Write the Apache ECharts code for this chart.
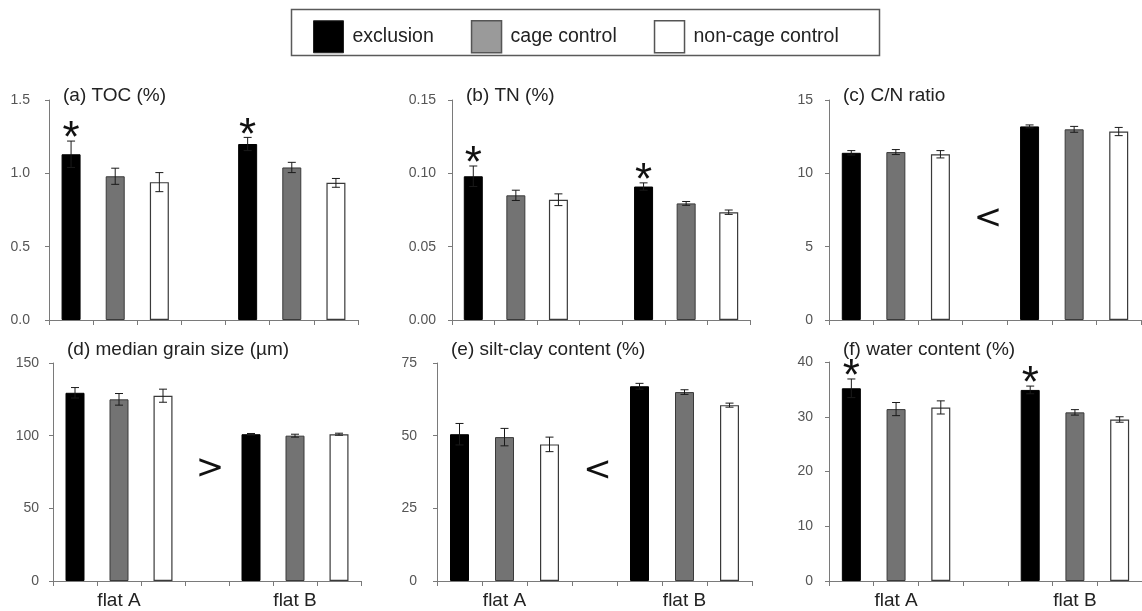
<!DOCTYPE html>
<html>
<head>
<meta charset="utf-8">
<script src="https://cdn.jsdelivr.net/npm/echarts@6/dist/echarts.min.js"></script>
<style>
  html, body { margin: 0; padding: 0; background: #fff; }
  #chart { width: 1142px; height: 611px; }
</style>
</head>
<body>
<div id="chart"></div>
<script>
// Treatments and sampling flats
const treatments = ['exclusion', 'cage control', 'non-cage control'];
const flats = ['flat A', 'flat B'];

// Values ordered: flat A (exclusion, cage, non-cage), flat B (exclusion, cage, non-cage)
const tocMean = [1.13, 0.98, 0.94, 1.20, 1.04, 0.935];
const tocErr  = [0.09, 0.055, 0.065, 0.045, 0.035, 0.03];
const tocSig  = ['*', '', '', '*', '', ''];

const tnMean = [0.098, 0.085, 0.082, 0.091, 0.0795, 0.0735];
const tnErr  = [0.007, 0.0035, 0.004, 0.0025, 0.0013, 0.0015];
const tnSig  = ['*', '', '', '*', '', ''];

const cnMean = [11.4, 11.45, 11.3, 13.2, 13.0, 12.85];
const cnErr  = [0.15, 0.17, 0.25, 0.1, 0.2, 0.28];
const cnSig  = ['', '', '', '', '', ''];

const grainMean = [129.5, 125, 127.5, 101, 100, 101];
const grainErr  = [3.6, 4, 4.5, 0.5, 1, 0.7];
const grainSig  = ['', '', '', '', '', ''];

const siltMean = [50.5, 49.5, 47, 67, 65, 60.5];
const siltErr  = [3.7, 3, 2.5, 1, 0.8, 0.7];
const siltSig  = ['', '', '', '', '', ''];

const waterMean = [35.2, 31.4, 31.7, 34.9, 30.8, 29.5];
const waterErr  = [1.7, 1.2, 1.2, 0.7, 0.5, 0.5];
const waterSig  = ['*', '', '', '*', '', ''];

// Flat A vs flat B comparison signs
const cnCompare = '<';
const grainCompare = '>';
const siltCompare = '<';

// y-axis ranges
const yMax   = [1.5, 0.15, 15, 150, 75, 40];
const yStep  = [0.5, 0.05, 5, 50, 25, 10];
const yDec   = [1, 2, 0, 0, 0, 0];

const panels = [
  { title: '(a) TOC (%)', mean: tocMean, err: tocErr, sig: tocSig, cmp: null },
  { title: '(b) TN (%)', mean: tnMean, err: tnErr, sig: tnSig, cmp: null },
  { title: '(c) C/N ratio', mean: cnMean, err: cnErr, sig: cnSig, cmp: cnCompare },
  { title: '(d) median grain size (\u00b5m)', mean: grainMean, err: grainErr, sig: grainSig, cmp: grainCompare },
  { title: '(e) silt-clay content (%)', mean: siltMean, err: siltErr, sig: siltSig, cmp: siltCompare },
  { title: '(f) water content (%)', mean: waterMean, err: waterErr, sig: waterSig, cmp: null }
];

// Plot areas
const layout = [
  { left: 49,  top: 100, width: 309, height: 220, margin: 19, xlab: false, titleTop: 86,  cmpLevel: 0 },
  { left: 452, top: 100, width: 298, height: 220, margin: 16, xlab: false, titleTop: 86,  cmpLevel: 0 },
  { left: 829, top: 100, width: 312, height: 220, margin: 16, xlab: false, titleTop: 86,  cmpLevel: 0.46 },
  { left: 53,  top: 363, width: 308, height: 218, margin: 14, xlab: true,  titleTop: 340, cmpLevel: 0.515 },
  { left: 437, top: 363, width: 315, height: 218, margin: 20, xlab: true,  titleTop: 340, cmpLevel: 0.505 },
  { left: 829, top: 362, width: 313, height: 219, margin: 16, xlab: true,  titleTop: 340, cmpLevel: 0 }
];

// Each flat takes three bar slots, with one empty slot between the flats
const slotsPerFlat = treatments.length + 1;
const slotCount = flats.length * slotsPerFlat - 1;
const slotKeys = [];
for (let k = 0; k < slotCount; k++) slotKeys.push('s' + k);
function slotOf(f, t) { return f * slotsPerFlat + t; }
function labelFor(idx) {
  for (let f = 0; f < flats.length; f++) {
    if (idx === slotOf(f, 1)) return flats[f];
  }
  return '';
}

const barStyles = [
  { color: '#000000', borderColor: '#000000', borderWidth: 1 },
  { color: '#737373', borderColor: '#3a3a3a', borderWidth: 1 },
  { color: '#ffffff', borderColor: '#3a3a3a', borderWidth: 1.2 }
];

const grid = [], xAxis = [], yAxis = [], series = [], title = [];

panels.forEach((p, i) => {
  const L = layout[i];
  grid.push({ left: L.left, top: L.top, width: L.width, height: L.height, containLabel: false });
  xAxis.push({
    type: 'category', gridIndex: i, data: slotKeys,
    axisLine: { lineStyle: { color: '#7a7a7a', width: 1 } },
    axisTick: { show: true, interval: 0, length: 5, lineStyle: { color: '#7a7a7a' } },
    axisLabel: {
      show: L.xlab, interval: 0, margin: 10,
      formatter: (v, idx) => labelFor(idx),
      fontFamily: 'Liberation Sans, Arial, sans-serif', fontSize: 19, color: '#222'
    },
    splitLine: { show: false }
  });
  yAxis.push({
    type: 'value', gridIndex: i, min: 0, max: yMax[i], interval: yStep[i],
    axisLine: { show: true, lineStyle: { color: '#7a7a7a', width: 1 } },
    axisTick: { show: true, length: 4, lineStyle: { color: '#7a7a7a' } },
    axisLabel: {
      margin: L.margin, formatter: v => v.toFixed(yDec[i]),
      fontFamily: 'Liberation Sans, Arial, sans-serif', fontSize: 14, color: '#555'
    },
    splitLine: { show: false }
  });
  title.push({
    text: p.title, left: L.left + 14, top: L.titleTop, padding: 0,
    textStyle: { fontFamily: 'Liberation Sans, Arial, sans-serif', fontSize: 19, fontWeight: 'normal', color: '#222' }
  });

  treatments.forEach((t, ti) => {
    const data = slotKeys.map(() => null);
    flats.forEach((f, fi) => { data[slotOf(fi, ti)] = p.mean[fi * treatments.length + ti]; });
    series.push({
      type: 'bar', name: t, xAxisIndex: i, yAxisIndex: i, data,
      barWidth: 19, barGap: '-100%', itemStyle: barStyles[ti],
      silent: true, animation: false
    });
  });

  // error bars and significance marks
  const errData = [];
  flats.forEach((f, fi) => {
    treatments.forEach((t, ti) => {
      const k = fi * treatments.length + ti;
      errData.push([slotOf(fi, ti), p.mean[k], p.err[k], k]);
    });
  });
  series.push({
    type: 'custom', xAxisIndex: i, yAxisIndex: i, data: errData, z: 5,
    silent: true, animation: false,
    renderItem: (params, api) => {
      const x = api.value(0), m = api.value(1), e = api.value(2), k = api.value(3);
      const top = api.coord([x, m + e]);
      const bot = api.coord([x, m - e]);
      const cap = 4;
      const style = { stroke: '#1a1a1a', lineWidth: 1 };
      const children = [
        { type: 'line', shape: { x1: top[0], y1: top[1], x2: bot[0], y2: bot[1] }, style },
        { type: 'line', shape: { x1: top[0] - cap, y1: top[1], x2: top[0] + cap, y2: top[1] }, style },
        { type: 'line', shape: { x1: bot[0] - cap, y1: bot[1], x2: bot[0] + cap, y2: bot[1] }, style }
      ];
      const mark = p.sig[k];
      if (mark) {
        children.push({
          type: 'text',
          style: {
            text: mark, x: top[0], y: top[1] - 1, align: 'center', verticalAlign: 'middle',
            fontFamily: 'Liberation Sans, Arial, sans-serif', fontSize: 44, fill: '#111'
          }
        });
      }
      return { type: 'group', children };
    }
  });

  if (p.cmp) {
    const gapSlot = slotOf(0, treatments.length);
    series.push({
      type: 'custom', xAxisIndex: i, yAxisIndex: i, z: 5, silent: true, animation: false,
      data: [[gapSlot, yMax[i] * L.cmpLevel]],
      renderItem: (params, api) => {
        const c = api.coord([api.value(0), api.value(1)]);
        return {
          type: 'text',
          style: {
            text: p.cmp, x: c[0] + 3, y: c[1], align: 'center', verticalAlign: 'middle',
            fontFamily: 'DejaVu Sans, sans-serif', fontSize: 34, fill: '#111'
          }
        };
      }
    });
  }
});

const chart = echarts.init(document.getElementById('chart'), null, { renderer: 'canvas' });
chart.setOption({
  backgroundColor: '#ffffff',
  animation: false,
  title,
  legend: {
    left: 308, top: 15, itemGap: 37, itemWidth: 30, itemHeight: 32, icon: 'rect',
    selectedMode: false,
    textStyle: { fontFamily: 'Liberation Sans, Arial, sans-serif', fontSize: 19.5, color: '#222', padding: [0, 0, 0, 4] },
    data: [
      { name: treatments[0], itemStyle: { color: '#000000', borderColor: '#222', borderWidth: 1 } },
      { name: treatments[1], itemStyle: { color: '#9a9a9a', borderColor: '#555', borderWidth: 1.5 } },
      { name: treatments[2], itemStyle: { color: '#ffffff', borderColor: '#555', borderWidth: 1.5 } }
    ]
  },
  graphic: [{
    type: 'rect', left: 289, top: 7, shape: { width: 588, height: 46 },
    style: { fill: 'none', stroke: '#5a5a5a', lineWidth: 1.5 }, silent: true
  }],
  grid, xAxis, yAxis, series
});
</script>
</body>
</html>
